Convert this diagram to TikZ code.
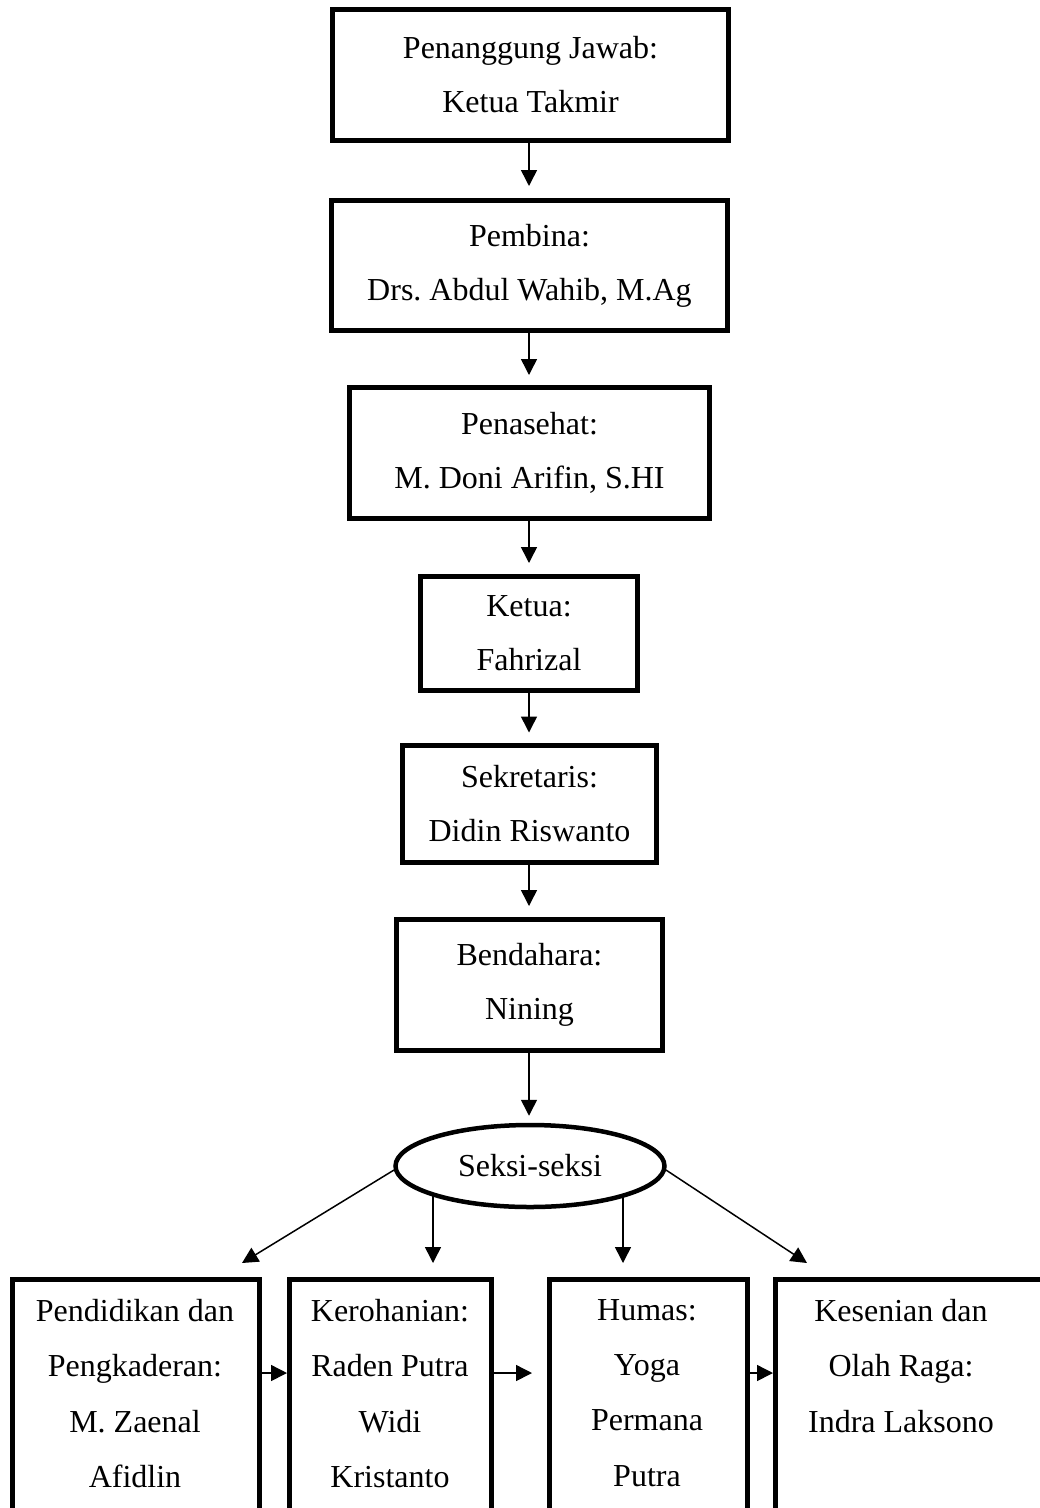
\documentclass[tikz,border=0pt]{standalone}
\usepackage{fontspec}
\setmainfont{Liberation Serif}
\usetikzlibrary{arrows.meta,shapes.geometric,backgrounds}
\frenchspacing
\begin{document}
\begin{tikzpicture}[x=1pt,y=-1pt,
  box/.style={draw, line width=5pt, rectangle, inner sep=0pt, align=center, fill=white,
    font=\fontsize{32pt}{54pt}\selectfont},
  sbox/.style={draw, line width=5pt, rectangle, inner sep=0pt},
  stxt/.style={inner sep=0pt, align=center, anchor=north, font=\fontsize{32pt}{55.3pt}\selectfont},
  arr/.style={line width=1.5pt, -{Triangle[length=16pt,width=16pt]}}]
\useasboundingbox (0,0) rectangle (1040,1508);
\clip (0,0) rectangle (1040,1508);
% vertical chain
\node[box, minimum width=396pt, minimum height=131pt] (pj) at (530.5,75) {Penanggung Jawab:\\Ketua Takmir};
\node[box, minimum width=396pt, minimum height=130pt] (pb) at (529.5,265.5) {Pembina:\\Drs. Abdul Wahib, M.Ag};
\node[box, minimum width=360pt, minimum height=131pt] (pn) at (529.5,453) {Penasehat:\\M. Doni Arifin, S.HI};
\node[box, minimum width=217pt, minimum height=114pt] (kt) at (529,633.5) {Ketua:\\Fahrizal};
\node[box, minimum width=254pt, minimum height=117pt] (sk) at (529.5,804) {Sekretaris:\\Didin Riswanto};
\node[box, minimum width=266pt, minimum height=131pt] (bd) at (529.5,985) {Bendahara:\\Nining};
\node[ellipse, draw, line width=4.5pt, fill=white, inner sep=0pt, minimum width=269pt, minimum height=82pt,
  font=\fontsize{32pt}{38pt}\selectfont] (sek) at (530,1166) {Seksi-seksi};

\draw[arr, shorten >=12pt] (pj.south -| 529,0) -- (pb.north -| 529,0);
\draw[arr, shorten >=10pt] (pb.south -| 529,0) -- (pn.north -| 529,0);
\draw[arr, shorten >=11pt] (pn.south -| 529,0) -- (kt.north -| 529,0);
\draw[arr, shorten >=10.5pt] (kt.south -| 529,0) -- (sk.north -| 529,0);
\draw[arr, shorten >=11pt] (sk.south -| 529,0) -- (bd.north -| 529,0);
\draw[arr, shorten >=7pt] (bd.south -| 529,0) -- (sek.north -| 529,0);

% bottom boxes
\node[sbox, minimum width=247pt, minimum height=280.5pt] (pd) at (136,1419.75) {};
\node[sbox, minimum width=202pt, minimum height=280.5pt] (kr) at (390.5,1419.75) {};
\node[sbox, minimum width=198pt, minimum height=280.5pt] (hm) at (648.5,1419.75) {};
\node[sbox, minimum width=284.5pt, minimum height=280.5pt] (ks) at (917.75,1419.75) {};

\node[stxt] (pdt) at (135,1299) {Pendidikan dan\\Pengkaderan:\\M. Zaenal\\Afidlin};
\node[stxt] (krt) at (390,1299) {Kerohanian:\\Raden Putra\\Widi\\Kristanto};
\node[stxt] (hmt) at (647,1299) {Humas:\\Yoga\\Permana\\Putra};
\node[stxt] (kst) at (901,1299) {Kesenian dan\\Olah Raga:\\Indra Laksono};

% connectors from Seksi-seksi
\coordinate (sL) at (394,1170);
\coordinate (sR) at (666,1170);
\coordinate (tL) at (242,1263);
\coordinate (tR) at (807,1263);
\coordinate (vL) at (433,1263);
\coordinate (vR) at (623,1263);
\begin{scope}[on background layer]
\draw[arr] (sL) -- (tL);
\draw[arr] (sR) -- (tR);
\draw[arr] (sek.center -| vL) -- (vL);
\draw[arr] (sek.center -| vR) -- (vR);
\end{scope}

% horizontal arrows
\coordinate (hC) at (532,1373);
\draw[arr] (pd.east |- 0,1373) -- (kr.west |- 0,1373);
\draw[arr] (kr.east |- 0,1373) -- (hC);
\draw[arr] (hm.east |- 0,1373) -- (ks.west |- 0,1373);
\end{tikzpicture}
\end{document}
